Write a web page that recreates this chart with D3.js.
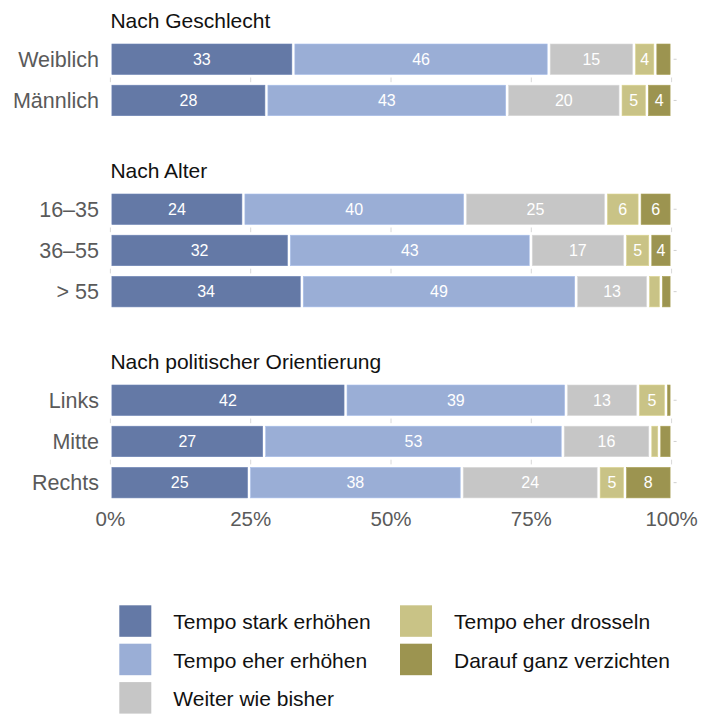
<!DOCTYPE html>
<html>
<head>
<meta charset="utf-8">
<script src="https://cdn.jsdelivr.net/npm/d3@7"></script>
<style>
  body { margin: 0; background: #fff; }
  text { font-family: "Liberation Sans", Arial, Helvetica, sans-serif; }
</style>
</head>
<body>
<div id="chart"></div>
<script>
// answer categories (stack order left -> right)
const categories = [
    "Tempo stark erhöhen",
    "Tempo eher erhöhen",
    "Weiter wie bisher",
    "Tempo eher drosseln",
    "Darauf ganz verzichten"
];
const colors = ["#6479a6", "#9aaed6", "#c6c6c6", "#c9c386", "#9c9450"];

// facet titles and their rows
const groupTitles = ["Nach Geschlecht", "Nach Alter", "Nach politischer Orientierung"];
const genderRows = ["Weiblich", "Männlich"];
const ageRows = ["16–35", "36–55", "> 55"];
const politicsRows = ["Links", "Mitte", "Rechts"];

// percentages per row, in category order
const genderValues = [
    [32.6, 45.5, 15.2, 3.8, 2.9],
    [27.8, 42.9, 20.2, 4.7, 4.4]
];
const ageValues = [
    [23.7, 39.5, 25.1, 6.0, 5.7],
    [31.8, 43.1, 16.8, 4.5, 3.8],
    [34.1, 48.9, 12.8, 2.3, 1.9]
];
const politicsValues = [
    [41.9, 39.3, 12.8, 5.0, 1.0],
    [27.4, 53.2, 15.6, 1.6, 2.2],
    [24.7, 37.9, 24.4, 4.7, 8.3]
];

const xTicks = [0, 25, 50, 75, 100];

// layout
const W = 703, H = 714;
const left = 110.4, right = 671.6;
const barH = 30.5, step = 41.2, gap = 3;
const groupTops = [44, 194, 385]; // top of first bar in each panel

const svg = d3.select("#chart").append("svg")
    .attr("width", W)
    .attr("height", H);

const x = d3.scaleLinear().domain([0, 100]).range([left, right]);

const groups = [
    { title: groupTitles[0], rows: genderRows, values: genderValues },
    { title: groupTitles[1], rows: ageRows, values: ageValues },
    { title: groupTitles[2], rows: politicsRows, values: politicsValues }
];

groups.forEach(function (grp, gi) {
    const top = groupTops[gi];
    const n = grp.rows.length;
    const pad = (step - barH) / step;
    const y = d3.scaleBand()
        .domain(grp.rows)
        .range([top - (step - barH) / 2, top - (step - barH) / 2 + n * step])
        .paddingInner(pad)
        .paddingOuter(pad / 2);

    const g = svg.append("g");

    // title
    g.append("text")
        .attr("x", left)
        .attr("y", top - 16)
        .attr("font-size", 21)
        .attr("fill", "#111")
        .text(grp.title);

    // grid lines, only visible in the gaps between rows
    grp.rows.slice(1).forEach(function (row) {
        const y1 = y(row) - gap;
        const y0 = y1 - (step - barH) + 2 * gap;
        g.selectAll(null)
            .data(xTicks)
            .enter().append("line")
            .attr("x1", d => x(d)).attr("x2", d => x(d))
            .attr("y1", y0).attr("y2", y1)
            .attr("stroke", "#d8d8d8")
            .attr("stroke-width", 1);
    });

    // small tick marks on the right
    g.selectAll(".rtick")
        .data(grp.rows)
        .enter().append("line")
        .attr("x1", right + 2).attr("x2", right + 5)
        .attr("y1", d => y(d) + y.bandwidth() / 2)
        .attr("y2", d => y(d) + y.bandwidth() / 2)
        .attr("stroke", "#cfcfcf");

    // row labels
    g.selectAll(".rlabel")
        .data(grp.rows)
        .enter().append("text")
        .attr("x", 99)
        .attr("y", d => y(d) + y.bandwidth() / 2)
        .attr("dy", "0.35em")
        .attr("text-anchor", "end")
        .attr("font-size", 21.5)
        .attr("fill", "#5a5a5a")
        .text(d => d);

    // stacked segments
    grp.rows.forEach(function (row, ri) {
        const vals = grp.values[ri];
        let cum = 0;
        const segs = vals.map(function (v, ci) {
            const s = { x0: cum, x1: cum + v, v: v, c: ci };
            cum += v;
            return s;
        });
        const rg = g.append("g");
        rg.selectAll("rect")
            .data(segs)
            .enter().append("rect")
            .attr("x", d => x(d.x0) + gap / 2)
            .attr("y", y(row))
            .attr("width", d => Math.max(0.8, x(d.x1) - x(d.x0) - gap))
            .attr("height", y.bandwidth())
            .attr("fill", d => colors[d.c])
            .attr("stroke", d => d3.color(colors[d.c]).brighter(0.25))
            .attr("stroke-width", 0.6);
        rg.selectAll("text")
            .data(segs.filter(d => d.v >= 3.5))
            .enter().append("text")
            .attr("x", d => (x(d.x0) + x(d.x1)) / 2)
            .attr("y", y(row) + y.bandwidth() / 2)
            .attr("dy", "0.36em")
            .attr("text-anchor", "middle")
            .attr("font-size", 16)
            .attr("fill", "#fff")
            .text(d => Math.round(d.v));
    });
});

// x axis labels
svg.append("g").selectAll("text")
    .data(xTicks)
    .enter().append("text")
    .attr("x", d => x(d))
    .attr("y", 526)
    .attr("text-anchor", "middle")
    .attr("font-size", 20.5)
    .attr("fill", "#5a5a5a")
    .text(d => d + "%");

// legend
const legSize = 31.5, legStep = 38.4;
const legCols = [119.3, 400];
const legend = svg.append("g");
categories.forEach(function (c, i) {
    const col = i < 3 ? 0 : 1;
    const row = i < 3 ? i : i - 3;
    const lx = legCols[col], ly = 605.3 + row * legStep;
    legend.append("rect")
        .attr("x", lx)
        .attr("y", ly)
        .attr("width", 32)
        .attr("height", legSize)
        .attr("fill", colors[i]);
    legend.append("text")
        .attr("x", lx + 54)
        .attr("y", ly + 24)
        .attr("font-size", 21)
        .attr("fill", "#111")
        .text(c);
});
</script>
</body>
</html>
